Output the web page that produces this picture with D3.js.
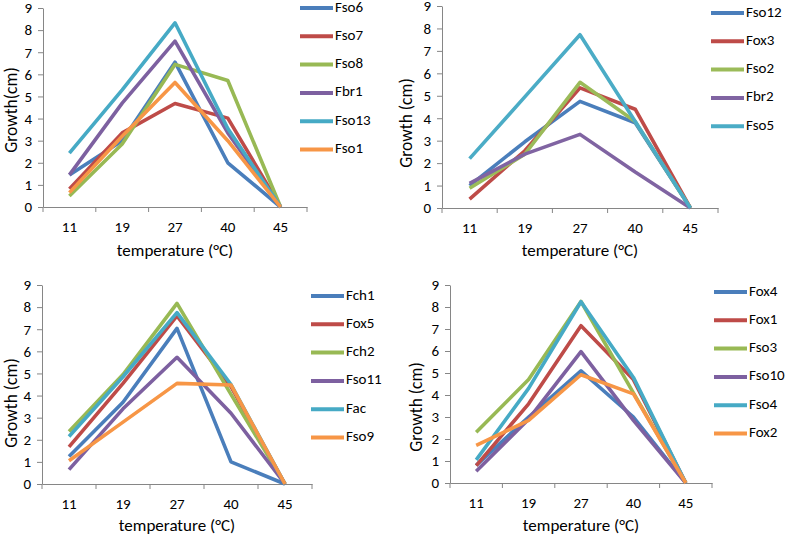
<!DOCTYPE html>
<html><head><meta charset="utf-8">
<script src="https://cdn.jsdelivr.net/npm/d3@7"></script>
<style>body{margin:0;background:#fff}svg{display:block}text{font-family:Carlito,Lato,"Liberation Sans",sans-serif;fill:#000}</style>
</head><body><svg id="c" width="788" height="538"></svg>
<script>
const categories = ["11","19","27","40","45"];
const colors = ["#4A7EBB","#BE4B48","#98B954","#7D60A0","#46AAC5","#F79646"];

const names1 = ["Fso6","Fso7","Fso8","Fbr1","Fso13","Fso1"];
const fso6 = [1.45,3.0,6.55,2.0,0];
const fso7 = [0.82,3.35,4.68,4.02,0];
const fso8 = [0.5,2.85,6.45,5.72,0];
const fbr1 = [1.45,4.7,7.5,3.35,0];
const fso13 = [2.44,5.3,8.33,3.55,0];
const fso1 = [0.65,3.2,5.63,3.0,0];

const names2 = ["Fso12","Fox3","Fso2","Fbr2","Fso5"];
const fso12 = [1.0,2.95,4.75,3.8,0];
const fox3 = [0.4,2.55,5.35,4.4,0];
const fso2 = [0.88,2.4,5.6,3.85,0];
const fbr2 = [1.1,2.4,3.28,1.6,0];
const fso5 = [2.2,4.95,7.72,3.85,0];

const names3 = ["Fch1","Fox5","Fch2","Fso11","Fac","Fso9"];
const fch1 = [1.24,3.7,7.04,1.0,0];
const fox5 = [1.68,4.55,7.6,4.4,0];
const fch2 = [2.37,4.95,8.17,4.05,0];
const fso11 = [0.65,3.4,5.73,3.2,0];
const fac = [2.15,4.85,7.75,4.5,0];
const fso9 = [1.05,2.8,4.55,4.48,0];

const names4 = ["Fox4","Fox1","Fso3","Fso10","Fso4","Fox2"];
const fox4 = [0.8,3.0,5.1,3.0,0];
const fox1 = [0.79,3.6,7.15,4.7,0];
const fso3 = [2.31,4.7,8.25,4.1,0];
const fso10 = [0.53,2.9,5.97,2.85,0];
const fso4 = [1.05,4.3,8.24,4.8,0];
const fox2 = [1.71,2.85,4.92,4.05,0];

const yTicks = [0,1,2,3,4,5,6,7,8,9];

const panels = [
  {names:names1, series:[fso6,fso7,fso8,fbr1,fso13,fso1], cols:colors,
   x0:43,x1:307,yb:207,yt:8, ylab:"Growth(cm)", ylx:13, yly:110, tly:252,
   lgx:300, lgy:8},
  {names:names2, series:[fso12,fox3,fso2,fbr2,fso5], cols:["#4A7EBB","#BE4B48","#9BBB59","#8064A2","#4BACC6"],
   x0:442,x1:718,yb:208,yt:6, ylab:"Growth (cm)", ylx:408, yly:123, tly:252,
   lgx:711, lgy:13},
  {names:names3, series:[fch1,fox5,fch2,fso11,fac,fso9], cols:colors,
   x0:42,x1:312,yb:484,yt:285, ylab:"Growth (cm)", ylx:12.5, yly:403, tly:527,
   lgx:311, lgy:296},
  {names:names4, series:[fox4,fox1,fso3,fso10,fso4,fox2], cols:colors,
   x0:450,x1:712,yb:483,yt:285, ylab:"Growth (cm)", ylx:418, yly:407, tly:527,
   lgx:714, lgy:292}
];

const svg = d3.select("#c");
const axisCol = "#868686";

panels.forEach(p => {
  const g = svg.append("g");
  const x = d3.scaleBand().domain(categories).range([p.x0,p.x1]);
  const y = d3.scaleLinear().domain([0,9]).range([p.yb,p.yt]);

  const ya = g.append("g").attr("transform",`translate(${p.x0},0)`)
    .call(d3.axisLeft(y).tickValues(yTicks).tickSize(5).tickSizeOuter(0).tickPadding(6));
  ya.selectAll("path,line").attr("stroke",axisCol);
  ya.selectAll("text").attr("font-size",15).attr("font-family","Carlito,Lato,sans-serif");

  const xa = g.append("g").attr("transform",`translate(0,${p.yb})`)
    .call(d3.axisBottom(x).tickSize(0).tickSizeOuter(0).tickPadding(14));
  xa.select("path").attr("stroke",axisCol);
  xa.selectAll("text").attr("font-size",15).attr("font-family","Carlito,Lato,sans-serif");
  const bounds = categories.map(c => x(c)).concat([x(categories[categories.length-1]) + x.bandwidth()]);
  g.selectAll(".xt").data(bounds).enter().append("line")
    .attr("x1",d=>d).attr("x2",d=>d).attr("y1",p.yb).attr("y2",p.yb+5)
    .attr("stroke",axisCol);

  const line = d3.line().x((d,i)=>x(categories[i])+x.bandwidth()/2).y(d=>y(d));
  p.series.forEach((s,i)=>{
    g.append("path").datum(s).attr("d",line).attr("fill","none")
      .attr("stroke",p.cols[i]).attr("stroke-width",3.6).attr("stroke-linejoin","round");
  });

  g.append("text").attr("x",(p.x0+p.x1)/2).attr("y",p.tly).attr("text-anchor","middle")
    .attr("dominant-baseline","middle").attr("font-size",17).text("temperature (°C)");
  g.append("text").attr("transform",`translate(${p.ylx},${p.yly}) rotate(-90)`)
    .attr("text-anchor","middle").attr("dominant-baseline","middle").attr("font-size",17.5).text(p.ylab);

  const lg = g.append("g").attr("transform",`translate(${p.lgx},${p.lgy})`);
  p.names.forEach((n,i)=>{
    const row = lg.append("g").attr("transform",`translate(0,${i*28.3})`);
    row.append("line").attr("x1",0).attr("x2",33).attr("y1",0).attr("y2",0)
      .attr("stroke",p.cols[i]).attr("stroke-width",4);
    row.append("text").attr("x",35).attr("y",0).attr("dominant-baseline","middle")
      .attr("font-size",15).text(n);
  });
});
</script></body></html>
